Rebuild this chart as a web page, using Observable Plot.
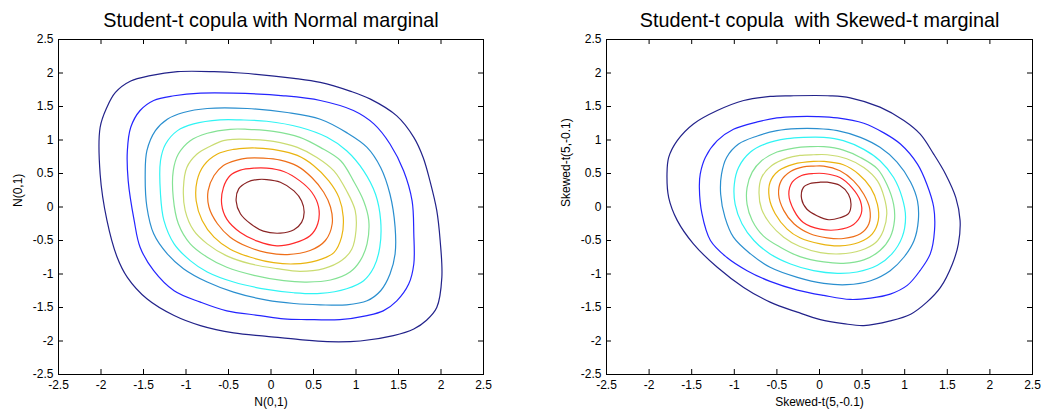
<!DOCTYPE html>
<html><head><meta charset="utf-8">
<script src="https://cdn.jsdelivr.net/npm/d3@7"></script>
<script src="https://cdn.jsdelivr.net/npm/@observablehq/plot@0.6"></script>
<style>
body{margin:0;background:#fff;width:1047px;height:412px;overflow:hidden;position:relative;font-family:"Liberation Sans",Arial,sans-serif}
#left,#right{position:absolute;top:0}
#left{left:0}
#right{left:524px}
svg text{white-space:pre}
</style></head><body>
<div id="left"></div><div id="right"></div>
<script>
const ticks = [-2.5,-2,-1.5,-1,-0.5,0,0.5,1,1.5,2,2.5];
const levels = ["L1","L2","L3","L4","L5","L6","L7","L8","L9","L10"];
const levelColors = ["#22228a","#2424ff","#2a8fcf","#30f4f4","#84e294","#cadc72","#eab410","#ee6e18","#ff2a2a","#8a2424"];

const titleLeft = "Student-t copula with Normal marginal";
const titleRight = "Student-t copula  with Skewed-t marginal";
const labelLeft = "N(0,1)";
const labelRight = "Skewed-t(5,-0.1)";

// Left panel contours (Normal marginal), outermost to innermost
const normalC1 = [[-1.10,2.02],[-0.67,2.02],[-0.36,2.00],[0.27,1.92],[0.58,1.86],[0.93,1.73],[1.17,1.61],[1.48,1.36],[1.68,1.04],[1.79,0.74],[1.87,0.39],[1.95,-0.05],[1.99,-0.50],[2.01,-1.05],[1.95,-1.50],[1.83,-1.69],[1.68,-1.82],[1.44,-1.92],[1.05,-2.00],[0.66,-2.01],[0.34,-1.98],[-0.05,-1.93],[-0.44,-1.88],[-0.83,-1.77],[-1.14,-1.62],[-1.46,-1.37],[-1.69,-1.05],[-1.81,-0.75],[-1.93,-0.20],[-2.01,0.49],[-2.01,1.19],[-1.93,1.49],[-1.83,1.71],[-1.65,1.88],[-1.42,1.96]];
const normalC2 = [[-1.14,1.66],[-0.83,1.70],[-0.44,1.70],[0.15,1.66],[0.58,1.59],[0.97,1.44],[1.21,1.24],[1.40,0.94],[1.56,0.54],[1.66,0.09],[1.68,-0.40],[1.68,-0.85],[1.62,-1.15],[1.48,-1.40],[1.32,-1.55],[1.13,-1.62],[0.81,-1.68],[0.42,-1.68],[0.15,-1.67],[-0.13,-1.62],[-0.52,-1.55],[-0.83,-1.42],[-1.14,-1.25],[-1.38,-0.95],[-1.54,-0.60],[-1.61,-0.20],[-1.68,0.39],[-1.69,0.84],[-1.65,1.19],[-1.54,1.44],[-1.38,1.59]];
const normalC3 = [[-1.03,1.41],[-0.75,1.47],[-0.28,1.47],[0.19,1.41],[0.58,1.31],[0.89,1.11],[1.13,0.89],[1.29,0.59],[1.40,0.19],[1.46,-0.30],[1.46,-0.70],[1.40,-1.00],[1.29,-1.25],[1.13,-1.40],[0.89,-1.46],[0.58,-1.46],[0.27,-1.44],[-0.05,-1.39],[-0.44,-1.27],[-0.75,-1.12],[-1.03,-0.92],[-1.22,-0.70],[-1.38,-0.40],[-1.46,0.00],[-1.48,0.49],[-1.46,0.84],[-1.36,1.14],[-1.22,1.31]];
const normalC4 = [[-0.91,1.24],[-0.60,1.30],[-0.36,1.30],[-0.05,1.28],[0.34,1.19],[0.66,1.04],[0.89,0.84],[1.09,0.54],[1.23,0.19],[1.29,-0.20],[1.28,-0.60],[1.21,-0.90],[1.09,-1.10],[0.89,-1.22],[0.58,-1.29],[0.27,-1.28],[-0.05,-1.23],[-0.44,-1.12],[-0.75,-0.97],[-0.95,-0.80],[-1.14,-0.55],[-1.26,-0.20],[-1.30,0.19],[-1.30,0.69],[-1.24,0.94],[-1.10,1.14]];
const normalC5 = [[-0.75,1.10],[-0.48,1.16],[-0.28,1.16],[0.03,1.13],[0.34,1.04],[0.58,0.89],[0.82,0.69],[0.97,0.39],[1.09,0.09],[1.15,-0.20],[1.13,-0.55],[1.05,-0.80],[0.93,-0.97],[0.70,-1.09],[0.42,-1.12],[0.15,-1.10],[-0.20,-1.02],[-0.52,-0.90],[-0.75,-0.75],[-0.95,-0.55],[-1.09,-0.25],[-1.15,0.14],[-1.15,0.54],[-1.09,0.79],[-0.95,0.99]];
const normalC6 = [[-0.56,0.99],[-0.44,1.01],[-0.28,1.01],[0.03,0.98],[0.31,0.89],[0.54,0.74],[0.74,0.54],[0.89,0.24],[0.99,-0.05],[1.00,-0.35],[0.95,-0.63],[0.83,-0.80],[0.62,-0.92],[0.34,-0.96],[0.07,-0.92],[-0.24,-0.85],[-0.52,-0.73],[-0.75,-0.55],[-0.91,-0.35],[-1.01,-0.05],[-1.03,0.29],[-0.99,0.59],[-0.87,0.79],[-0.71,0.91]];
const normalC7 = [[-0.44,0.86],[-0.28,0.88],[-0.16,0.88],[0.07,0.85],[0.31,0.77],[0.50,0.62],[0.68,0.39],[0.80,0.14],[0.85,-0.15],[0.83,-0.45],[0.74,-0.68],[0.54,-0.80],[0.27,-0.85],[0.03,-0.83],[-0.24,-0.75],[-0.48,-0.63],[-0.67,-0.45],[-0.81,-0.20],[-0.88,0.09],[-0.87,0.39],[-0.79,0.62],[-0.63,0.79]];
const normalC8 = [[-0.40,0.70],[-0.28,0.73],[-0.09,0.73],[0.11,0.70],[0.31,0.61],[0.48,0.44],[0.62,0.22],[0.70,0.00],[0.72,-0.25],[0.64,-0.50],[0.46,-0.65],[0.19,-0.71],[-0.05,-0.68],[-0.28,-0.59],[-0.48,-0.45],[-0.63,-0.25],[-0.73,0.00],[-0.74,0.24],[-0.67,0.47],[-0.56,0.62]];
const normalC9 = [[-0.36,0.55],[-0.20,0.58],[-0.05,0.58],[0.15,0.53],[0.34,0.39],[0.48,0.22],[0.56,0.00],[0.55,-0.25],[0.46,-0.43],[0.27,-0.54],[0.07,-0.58],[-0.16,-0.51],[-0.36,-0.38],[-0.52,-0.18],[-0.58,0.04],[-0.56,0.29],[-0.48,0.47]];
const normalC10 = [[-0.28,0.37],[-0.16,0.41],[-0.05,0.41],[0.11,0.37],[0.27,0.24],[0.36,0.09],[0.39,-0.08],[0.36,-0.23],[0.27,-0.34],[0.11,-0.39],[-0.09,-0.36],[-0.24,-0.25],[-0.36,-0.10],[-0.41,0.09],[-0.38,0.27]];

// Right panel contours (Skewed-t marginal), outermost to innermost
const skewC1 = [[-0.58,1.65],[-0.34,1.66],[0.13,1.66],[0.36,1.63],[0.71,1.49],[0.99,1.29],[1.18,1.09],[1.34,0.79],[1.48,0.49],[1.60,0.14],[1.65,-0.20],[1.63,-0.55],[1.56,-0.85],[1.42,-1.20],[1.26,-1.42],[1.07,-1.60],[0.83,-1.70],[0.52,-1.77],[0.28,-1.74],[0.01,-1.68],[-0.26,-1.57],[-0.58,-1.42],[-0.89,-1.20],[-1.20,-0.90],[-1.48,-0.55],[-1.67,-0.20],[-1.77,0.14],[-1.79,0.49],[-1.77,0.74],[-1.67,0.99],[-1.48,1.24],[-1.20,1.44],[-0.89,1.59]];
const skewC2 = [[-0.50,1.33],[-0.26,1.35],[-0.03,1.35],[0.21,1.33],[0.52,1.25],[0.75,1.11],[0.95,0.94],[1.15,0.64],[1.26,0.34],[1.34,0.00],[1.35,-0.35],[1.30,-0.70],[1.18,-0.95],[1.03,-1.17],[0.83,-1.30],[0.60,-1.36],[0.36,-1.38],[0.05,-1.32],[-0.26,-1.24],[-0.58,-1.11],[-0.85,-0.95],[-1.09,-0.75],[-1.28,-0.50],[-1.38,-0.10],[-1.41,0.29],[-1.40,0.49],[-1.34,0.74],[-1.20,0.99],[-1.01,1.16],[-0.73,1.27]];
const skewC3 = [[-0.50,1.14],[-0.26,1.17],[-0.03,1.17],[0.21,1.14],[0.48,1.04],[0.71,0.89],[0.91,0.67],[1.07,0.37],[1.15,0.09],[1.16,-0.20],[1.11,-0.50],[0.99,-0.75],[0.83,-0.95],[0.60,-1.10],[0.32,-1.16],[0.05,-1.14],[-0.26,-1.05],[-0.58,-0.90],[-0.81,-0.70],[-1.01,-0.45],[-1.11,-0.15],[-1.16,0.19],[-1.15,0.49],[-1.09,0.74],[-0.95,0.94],[-0.73,1.06]];
const skewC4 = [[-0.38,1.02],[-0.19,1.04],[0.05,1.04],[0.28,0.99],[0.52,0.86],[0.71,0.69],[0.87,0.44],[0.97,0.14],[1.01,-0.15],[0.97,-0.45],[0.85,-0.70],[0.68,-0.87],[0.44,-0.97],[0.21,-0.99],[-0.07,-0.95],[-0.34,-0.85],[-0.58,-0.70],[-0.77,-0.50],[-0.91,-0.25],[-0.99,0.04],[-1.00,0.34],[-0.95,0.59],[-0.81,0.82],[-0.62,0.95]];
const skewC5 = [[-0.30,0.88],[-0.11,0.90],[0.05,0.90],[0.28,0.85],[0.48,0.74],[0.68,0.57],[0.79,0.34],[0.87,0.04],[0.88,-0.20],[0.83,-0.45],[0.71,-0.65],[0.52,-0.79],[0.28,-0.84],[0.05,-0.82],[-0.23,-0.74],[-0.46,-0.60],[-0.66,-0.43],[-0.79,-0.20],[-0.85,0.04],[-0.85,0.29],[-0.79,0.52],[-0.68,0.69],[-0.50,0.82]];
const skewC6 = [[-0.23,0.77],[-0.07,0.78],[0.09,0.78],[0.32,0.72],[0.52,0.59],[0.68,0.39],[0.76,0.14],[0.79,-0.10],[0.75,-0.35],[0.66,-0.53],[0.48,-0.65],[0.24,-0.70],[0.01,-0.68],[-0.23,-0.59],[-0.42,-0.45],[-0.58,-0.25],[-0.68,-0.03],[-0.71,0.22],[-0.68,0.44],[-0.56,0.62],[-0.38,0.73]];
const skewC7 = [[-0.30,0.64],[-0.07,0.68],[0.05,0.68],[0.28,0.63],[0.46,0.49],[0.60,0.29],[0.68,0.04],[0.69,-0.20],[0.62,-0.40],[0.46,-0.53],[0.24,-0.58],[0.01,-0.55],[-0.23,-0.46],[-0.38,-0.33],[-0.52,-0.10],[-0.59,0.14],[-0.58,0.37],[-0.48,0.54]];
const skewC8 = [[-0.19,0.60],[-0.07,0.61],[0.05,0.61],[0.24,0.54],[0.40,0.39],[0.52,0.19],[0.59,-0.03],[0.58,-0.25],[0.48,-0.40],[0.28,-0.47],[0.09,-0.46],[-0.11,-0.40],[-0.30,-0.25],[-0.42,-0.05],[-0.48,0.19],[-0.45,0.39],[-0.34,0.53]];
const skewC9 = [[-0.21,0.47],[-0.07,0.50],[0.05,0.50],[0.24,0.44],[0.38,0.29],[0.48,0.09],[0.49,-0.10],[0.40,-0.26],[0.21,-0.34],[0.01,-0.33],[-0.19,-0.23],[-0.30,-0.05],[-0.36,0.19],[-0.32,0.37]];
const skewC10 = [[-0.11,0.35],[0.01,0.37],[0.09,0.37],[0.24,0.32],[0.34,0.19],[0.37,0.04],[0.34,-0.10],[0.24,-0.16],[0.11,-0.19],[-0.03,-0.13],[-0.15,-0.03],[-0.21,0.12],[-0.19,0.29]];

const normalContours = [normalC1,normalC2,normalC3,normalC4,normalC5,normalC6,normalC7,normalC8,normalC9,normalC10];
const skewContours = [skewC1,skewC2,skewC3,skewC4,skewC5,skewC6,skewC7,skewC8,skewC9,skewC10];

function panel({contours, title, xLabel, yLabel, width, marginLeft, marginRight}) {
  const rows = contours.flatMap((pts, i) => pts.map(([x, y]) => ({level: levels[i], x, y})));
  const H = 412, mt = 39, mb = 38, tk = 5;
  const innerW = width - marginLeft - marginRight, innerH = H - mt - mb;
  return Plot.plot({
    width, height: H, marginLeft, marginRight, marginTop: mt, marginBottom: mb,
    style: {fontFamily: "'Liberation Sans', Arial, sans-serif", fontSize: "12px", color: "#000", background: "#fff", overflow: "visible"},
    x: {domain: [-2.5, 2.5], ticks: ticks, tickSize: 0, tickPadding: 6, tickFormat: d => String(d), label: null},
    y: {domain: [-2.5, 2.5], ticks: ticks, tickSize: 0, tickPadding: 5, tickFormat: d => String(d), label: null},
    color: {type: "ordinal", domain: levels, range: levelColors},
    marks: [
      Plot.line(rows, {x: "x", y: "y", z: "level", stroke: "level", curve: "catmull-rom-closed", strokeWidth: 1.2}),
      Plot.frame({stroke: "#000"}),
      Plot.ruleX(ticks, {insetTop: innerH - tk, stroke: "#000"}),
      Plot.ruleX(ticks, {insetBottom: innerH - tk, stroke: "#000"}),
      Plot.ruleY(ticks, {insetRight: innerW - tk, stroke: "#000"}),
      Plot.ruleY(ticks, {insetLeft: innerW - tk, stroke: "#000"}),
      Plot.text([title], {text: d => d, frameAnchor: "top", lineAnchor: "bottom", dy: -12.5, fontSize: 19.8, fill: "#000"}),
      Plot.text([xLabel], {text: d => d, frameAnchor: "bottom", lineAnchor: "middle", dy: 28, fontSize: 12, fill: "#000"}),
      Plot.text([yLabel], {text: d => d, frameAnchor: "left", lineAnchor: "middle", rotate: -90, dx: -40, fontSize: 12, fill: "#000"})
    ]
  });
}

document.getElementById("left").append(panel({contours: normalContours, title: titleLeft, xLabel: labelLeft, yLabel: labelLeft, width: 523, marginLeft: 58, marginRight: 40}));
document.getElementById("right").append(panel({contours: skewContours, title: titleRight, xLabel: labelRight, yLabel: labelRight, width: 523, marginLeft: 82, marginRight: 15}));
</script>
</body></html>
